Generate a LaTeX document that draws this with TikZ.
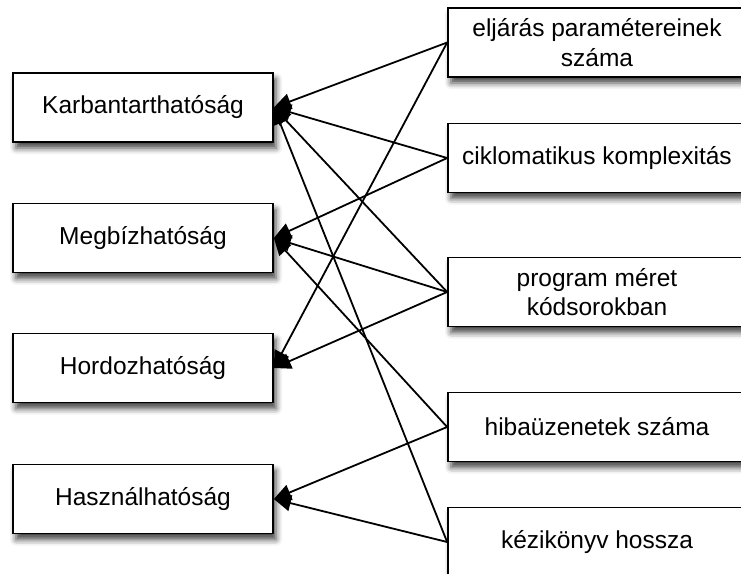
\documentclass[tikz,border=0pt]{standalone}
\usepackage{fontspec}
\setmainfont{Liberation Sans}
\usetikzlibrary{arrows.meta,shadows.blur}

\tikzset{
  box/.style={draw=black, line width=1.7pt, fill=white, align=center,
    inner sep=0pt, minimum height=69pt,
    font=\fontsize{24.5}{29.4}\selectfont,
    blur shadow={shadow xshift=3pt, shadow yshift=-6pt,
      shadow blur radius=6pt, shadow opacity=75}},
  quality/.style={box, minimum width=260pt},
  metric/.style={box, minimum width=298pt},
  link/.style={line width=1.8pt, -{Triangle[length=17pt,width=16pt]}}
}

\begin{document}
\begin{tikzpicture}[x=1pt,y=-1pt]
  \useasboundingbox (0,0) rectangle (741,573);

  % quality characteristics
  \node[quality] (karb) at (143,107.5) {Karbantarthatóság};
  \node[quality] (megb) at (143,238)   {Megbízhatóság};
  \node[quality] (hord) at (143,368)   {Hordozhatóság};
  \node[quality] (hasz) at (143,499)   {Használhatóság};

  % measurable metrics
  \node[metric] (par)  at (597,42.5) {eljárás paramétereinek\\száma};
  \node[metric] (cikl) at (597,158)  {ciklomatikus komplexitás};
  \node[metric] (meret) at (597,292) {program méret\\kódsorokban};
  \node[metric] (hiba) at (597,427)  {hibaüzenetek száma};
  \node[metric] (kezi) at (597,542)  {kézikönyv hossza};

  % metric -> characteristic links
  \draw[link] (par.west)   -- (karb.east);
  \draw[link] (cikl.west)  -- (karb.east);
  \draw[link] (meret.west) -- (karb.east);
  \draw[link] (kezi.west)  -- (karb.east);

  \draw[link] (cikl.west)  -- (megb.east);
  \draw[link] (meret.west) -- (megb.east);
  \draw[link] (hiba.west)  -- (megb.east);

  \draw[link] (par.west)   -- (hord.east);
  \draw[link] (meret.west) -- (hord.east);

  \draw[link] (hiba.west)  -- (hasz.east);
  \draw[link] (kezi.west)  -- (hasz.east);
\end{tikzpicture}
\end{document}
